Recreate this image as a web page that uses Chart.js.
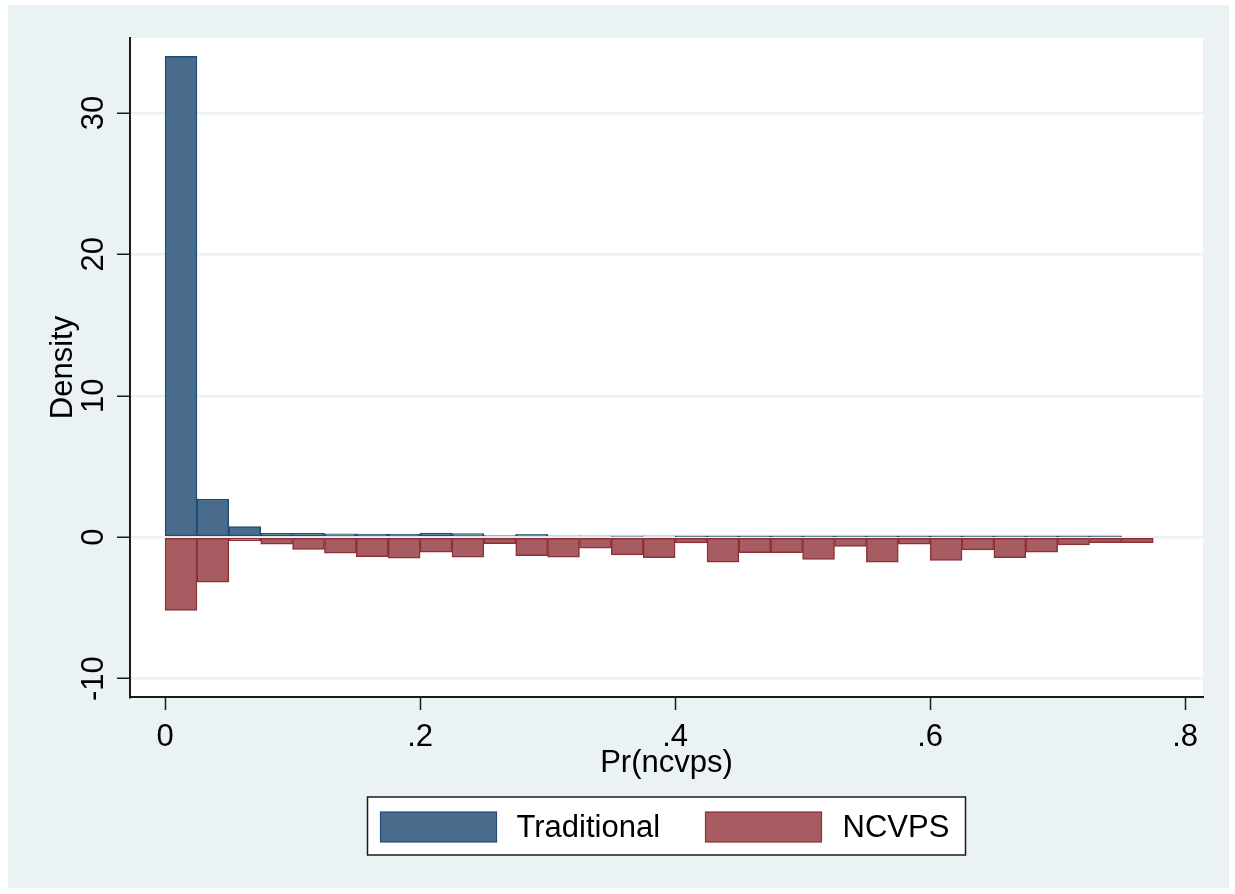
<!DOCTYPE html>
<html>
<head>
<meta charset="utf-8">
<title>Pr(ncvps) histogram</title>
<script src="https://cdn.jsdelivr.net/npm/chart.js@4.4.1/dist/chart.umd.min.js"></script>
<style>
    html, body { margin: 0; padding: 0; background: #ffffff; }
    #histChart { display: block; }
</style>
</head>
<body>
<canvas id="histChart" width="1235" height="894"></canvas>
<script>
// bin centres (bin width .025)
const binCenters = [
    0.0125, 0.0375, 0.0625, 0.0875, 0.1125, 0.1375, 0.1625, 0.1875,
    0.2125, 0.2375, 0.2625, 0.2875, 0.3125, 0.3375, 0.3625, 0.3875,
    0.4125, 0.4375, 0.4625, 0.4875, 0.5125, 0.5375, 0.5625, 0.5875,
    0.6125, 0.6375, 0.6625, 0.6875, 0.7125, 0.7375, 0.7625
];

// density, traditional (drawn upward)
const traditional = [
    34.0, 2.7, 0.75, 0.28, 0.27, 0.23, 0.22, 0.22,
    0.3, 0.25, 0.12, 0.21, 0.1, 0.1, 0.05, 0.1,
    0.03, 0.03, 0.03, 0.03, 0.03, 0.03, 0.03, 0.03,
    0.03, 0.03, 0.03, 0.03, 0.03, 0.03, 0.0
];

// density, NCVPS (mirrored downward)
const ncvps = [
    -5.17, -3.18, -0.25, -0.5, -0.87, -1.13, -1.37, -1.49,
    -1.06, -1.42, -0.45, -1.3, -1.42, -0.78, -1.25, -1.44,
    -0.4, -1.77, -1.1, -1.1, -1.58, -0.66, -1.77, -0.5,
    -1.65, -0.9, -1.44, -1.06, -0.54, -0.38, -0.38
];

const xTicks = [0, 0.2, 0.4, 0.6, 0.8];
const yTicks = [-10, 0, 10, 20, 30];
const seriesNames = ['Traditional', 'NCVPS'];

const BG = '#eaf2f3';
const AXIS = '#1a1a1a';
const FONT = '"Liberation Sans", Arial, Helvetica, sans-serif';

function fmtTick(v) {
    if (v === 0) return '0';
    return String(+v.toFixed(2)).replace(/^(-?)0\./, '$1.');
}

// stata-ish frame, rotated y labels and boxed legend
const stataFrame = {
    id: 'stataFrame',
    beforeDraw(chart) {
        const { ctx, chartArea } = chart;
        ctx.save();
        ctx.fillStyle = '#ffffff';
        ctx.fillRect(0, 0, chart.width, chart.height);
        ctx.fillStyle = BG;
        ctx.fillRect(8, 5, chart.width - 14, chart.height - 11);
        ctx.fillStyle = '#ffffff';
        ctx.fillRect(chartArea.left, chartArea.top,
            chartArea.right - chartArea.left, chartArea.bottom - chartArea.top);
        ctx.restore();
    },
    afterDraw(chart) {
        const { ctx, chartArea } = chart;
        const y = chart.scales.y;
        ctx.save();
        ctx.fillStyle = '#000';
        ctx.font = '31px ' + FONT;
        ctx.textAlign = 'center';
        ctx.textBaseline = 'middle';

        yTicks.forEach(v => {
            ctx.save();
            ctx.translate(94, y.getPixelForValue(v));
            ctx.rotate(-Math.PI / 2);
            ctx.fillText(fmtTick(v), 0, 0);
            ctx.restore();
        });

        ctx.save();
        ctx.translate(63, (chartArea.top + chartArea.bottom) / 2);
        ctx.rotate(-Math.PI / 2);
        ctx.fillText('Density', 0, 0);
        ctx.restore();

        // legend
        const cx = (chartArea.left + chartArea.right) / 2;
        const boxL = cx - 299, boxT = 797, boxW = 598, boxH = 58;
        ctx.fillStyle = '#ffffff';
        ctx.fillRect(boxL, boxT, boxW, boxH);
        ctx.strokeStyle = AXIS;
        ctx.lineWidth = 1.5;
        ctx.strokeRect(boxL, boxT, boxW, boxH);

        const ds = chart.data.datasets;
        const swatchX = [boxL + 13, boxL + 338];
        const textX = [boxL + 149, boxL + 475];
        ds.forEach((d, i) => {
            ctx.fillStyle = d.backgroundColor;
            ctx.fillRect(swatchX[i], 812, 116, 30);
            ctx.strokeStyle = d.borderColor;
            ctx.lineWidth = 1.2;
            ctx.strokeRect(swatchX[i], 812, 116, 30);
            ctx.fillStyle = '#000';
            ctx.textAlign = 'left';
            ctx.fillText(d.label, textX[i], 828);
        });
        ctx.restore();
    }
};

const ctx = document.getElementById('histChart').getContext('2d');

new Chart(ctx, {
    type: 'bar',
    data: {
        datasets: [{
            label: seriesNames[0],
            data: binCenters.map((x, i) => ({ x: x, y: traditional[i] })),
            backgroundColor: '#4a6c8c',
            borderColor: '#1f4d78',
            borderWidth: 1.5,
            borderSkipped: false
        }, {
            label: seriesNames[1],
            data: binCenters.map((x, i) => ({ x: x, y: ncvps[i] })),
            backgroundColor: '#a65c61',
            borderColor: '#8f3039',
            borderWidth: 1.5,
            borderSkipped: false
        }]
    },
    options: {
        responsive: false,
        animation: false,
        devicePixelRatio: 1,
        grouped: false,
        barPercentage: 1,
        categoryPercentage: 1,
        layout: {
            padding: { left: 10, top: 38, right: 32, bottom: 112 }
        },
        scales: {
            x: {
                type: 'linear',
                offset: false,
                min: -0.0275,
                max: 0.814,
                afterBuildTicks: s => { s.ticks = xTicks.map(v => ({ value: v })); },
                afterFit: s => { s.height = 85; },
                ticks: {
                    color: '#000',
                    font: { family: FONT, size: 31 },
                    padding: 9,
                    maxRotation: 0,
                    callback: v => fmtTick(v)
                },
                grid: {
                    offset: false,
                    drawOnChartArea: false,
                    drawTicks: true,
                    tickLength: 13,
                    tickColor: AXIS,
                    tickWidth: 1.5
                },
                border: { display: true, color: AXIS, width: 2 },
                title: {
                    display: true,
                    text: 'Pr(ncvps)',
                    color: '#000',
                    font: { family: FONT, size: 31 },
                    padding: 0
                }
            },
            y: {
                type: 'linear',
                min: -11.3,
                max: 35.3,
                afterBuildTicks: s => { s.ticks = yTicks.map(v => ({ value: v })); },
                afterFit: s => { s.width = 120; },
                ticks: { display: false },
                grid: {
                    color: BG,
                    lineWidth: 2.5,
                    drawTicks: true,
                    tickLength: 13,
                    tickColor: AXIS,
                    tickWidth: 1.5
                },
                border: { display: true, color: AXIS, width: 2 }
            }
        },
        plugins: {
            legend: { display: false },
            tooltip: { enabled: false }
        }
    },
    plugins: [stataFrame]
});
</script>
</body>
</html>
